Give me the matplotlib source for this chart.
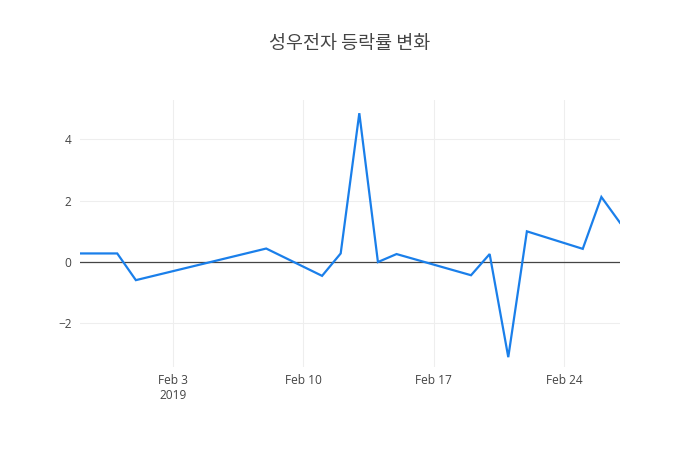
import matplotlib
matplotlib.use('Agg')
import matplotlib.pyplot as plt
import pandas as pd

# 등락률 데이터
dates = ['2019-01-29', '2019-01-30', '2019-01-31', '2019-02-01', '2019-02-08',
         '2019-02-11', '2019-02-12', '2019-02-13', '2019-02-14', '2019-02-15',
         '2019-02-19', '2019-02-20', '2019-02-21', '2019-02-22', '2019-02-25',
         '2019-02-26', '2019-02-27']
rates = [0.28, 0.28, 0.28, -0.59, 0.44,
         -0.45, 0.28, 4.85, 0.0, 0.26,
         -0.43, 0.26, -3.1, 1.0, 0.43,
         2.12, 1.28]
title = '성우전자 등락률 변화'

x = pd.to_datetime(dates)

fig = plt.figure(figsize=(7, 4.5), dpi=100)
ax = fig.add_axes([80 / 700, (450 - 367) / 450, 540 / 700, 267 / 450])

ax.plot(x, rates, color='#1a7fea', linewidth=1.6, solid_joinstyle='miter', zorder=3)
ax.axhline(0, color='#444444', linewidth=0.9, zorder=2)

ax.set_xlim(x[0], x[-1])
ax.set_ylim(-3.42, 5.28)
ax.set_yticks([-2, 0, 2, 4])
ax.set_yticklabels(['\u22122', '0', '2', '4'])

ticks = pd.to_datetime(['2019-02-03', '2019-02-10', '2019-02-17', '2019-02-24'])
ax.set_xticks(ticks)
ax.set_xticklabels(['Feb 3\n2019', 'Feb 10', 'Feb 17', 'Feb 24'], va='top')

ax.grid(True, color='#eeeeee', linewidth=0.75)
ax.set_axisbelow(True)
for s in ax.spines.values():
    s.set_visible(False)
ax.tick_params(length=0, colors='#444444', labelsize=8.6)
ax.tick_params(axis='y', pad=6)
ax.tick_params(axis='x', pad=5)
for lab in ax.get_xticklabels() + ax.get_yticklabels():
    lab.set_family(['Open Sans', 'DejaVu Sans'])
    lab.set_color('#444444')

fig.text(0.5, 1 - 44 / 450, title, ha='center', va='center', fontsize=13.3,
         color='#444444', family=['Noto Sans CJK KR', 'DejaVu Sans'])

fig.savefig('out.png', dpi=100)
